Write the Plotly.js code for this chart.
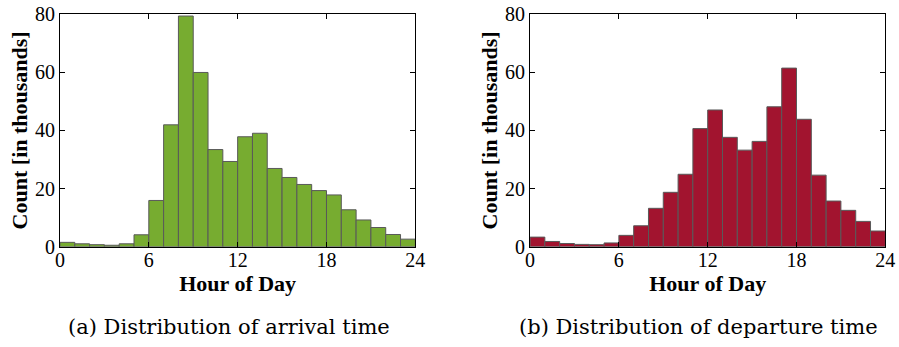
<!DOCTYPE html>
<html>
<head>
<meta charset="utf-8">
<script src="https://cdn.plot.ly/plotly-3.0.1.min.js"></script>
<style>html,body{margin:0;padding:0;background:#fff;}#chart{width:899px;height:347px;}</style>
</head>
<body>
<div id="chart"></div>
<script>
const hours = [0.5,1.5,2.5,3.5,4.5,5.5,6.5,7.5,8.5,9.5,10.5,11.5,12.5,13.5,14.5,15.5,16.5,17.5,18.5,19.5,20.5,21.5,22.5,23.5];
const arrivals = [1.5,1.0,0.7,0.5,1.0,4.1,15.9,41.9,79.3,59.9,33.4,29.3,37.8,39.0,26.9,23.8,21.4,19.3,17.8,12.7,9.2,6.6,4.2,2.6];
const departures = [3.3,1.8,1.1,0.8,0.7,1.3,3.9,7.2,13.2,18.7,24.9,40.6,47.0,37.6,33.2,36.2,48.1,61.4,43.8,24.6,15.7,12.5,8.7,5.4];
const xTicks = [0,6,12,18,24];
const yTicks = [0,20,40,60,80];
const captions = ["(a) Distribution of arrival time","(b) Distribution of departure time"];
const xTitle = "Hour of Day";
const yTitle = "Count [in thousands]";

const serif = "'Liberation Serif', 'Times New Roman', serif";
const capSerif = "'DejaVu Serif', serif";
const tickFont = {family: serif, size: 20, color: "#000"};
const titleFont = {family: serif, size: 22, color: "#000", weight: "bold"};

const traces = [
  {type:"bar", x:hours, y:arrivals, width:1, xaxis:"x", yaxis:"y",
   marker:{color:"#77AC30", line:{color:"#595959", width:1}}, hoverinfo:"x+y"},
  {type:"bar", x:hours, y:departures, width:1, xaxis:"x2", yaxis:"y2",
   marker:{color:"#A2142F", line:{color:"#595959", width:1}}, hoverinfo:"x+y"}
];

function xa(domain, anchor){
  return {domain:domain, anchor:anchor, range:[0,24], tickvals:xTicks, ticktext:xTicks.map(String),
    ticks:"inside", ticklen:5, tickcolor:"#000", showline:true, linecolor:"#000", linewidth:1,
    mirror:"ticks", showgrid:false, zeroline:false, tickfont:tickFont, ticklabelstandoff:-5,
    title:{text:"<b>"+xTitle+"</b>", font:titleFont, standoff:0}};
}
function ya(domain, anchor){
  return {domain:domain, anchor:anchor, range:[0,80], tickvals:yTicks, ticktext:yTicks.map(String),
    ticks:"inside", ticklen:5, tickcolor:"#000", showline:true, linecolor:"#000", linewidth:1,
    mirror:"ticks", showgrid:false, zeroline:false, tickfont:tickFont,
    title:{text:"<b>"+yTitle+"</b>", font:titleFont, standoff:1}};
}

const yDom = [0.289, 0.9597];
const layout = {
  width:899, height:347, margin:{l:0,r:0,t:0,b:0},
  paper_bgcolor:"#fff", plot_bgcolor:"#fff", showlegend:false, bargap:0,
  font:{family:serif},
  xaxis: xa([0.0667,0.462],"y"),
  yaxis: ya(yDom,"x"),
  xaxis2: xa([0.5896,0.9848],"y2"),
  yaxis2: ya(yDom,"x2"),
  annotations:[
    {text:captions[0], xref:"paper", yref:"paper", x:229/899, y:(347-327)/347, xanchor:"center", yanchor:"middle",
     showarrow:false, font:{family:capSerif, size:21, color:"#000"}},
    {text:captions[1], xref:"paper", yref:"paper", x:698/899, y:(347-327)/347, xanchor:"center", yanchor:"middle",
     showarrow:false, font:{family:capSerif, size:21, color:"#000"}}
  ]
};
Plotly.newPlot("chart", traces, layout, {displayModeBar:false, staticPlot:true});
</script>
</body>
</html>
